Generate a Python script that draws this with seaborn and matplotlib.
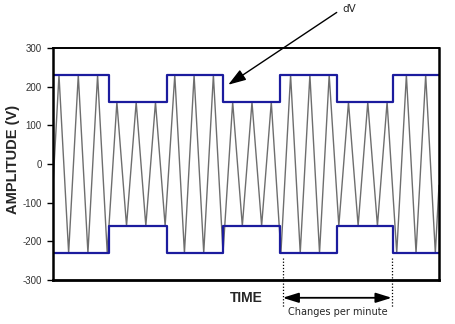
import matplotlib
matplotlib.use("Agg")
import matplotlib.pyplot as plt
import seaborn as sns
import pandas as pd

# ---- data ----
# envelope (step) : switch times and levels (V)
env_t = [0.0, 2.92, 5.89, 8.82, 11.76, 14.70, 17.63, 20.0]
env_hi = [230, 160, 230, 160, 230, 160, 230, 230]
env_lo = [-230, -160, -230, -160, -230, -160, -230, -230]

# carrier: turning points (time, value)
wave_t = [0.0,
          0.31, 0.81, 1.31, 1.81, 2.31, 2.81, 3.31, 3.81, 4.31, 4.81,
          5.31, 5.81, 6.31, 6.81, 7.31, 7.81, 8.31, 8.81, 9.31, 9.81,
          10.31, 10.81, 11.31, 11.81, 12.31, 12.81, 13.31, 13.81, 14.31, 14.81,
          15.31, 15.81, 16.31, 16.81, 17.31, 17.81, 18.31, 18.81, 19.31, 19.81,
          20.0]
wave_v = [-55,
          230, -230, 230, -230, 230, -230, 160, -160, 160, -160,
          160, -160, 230, -230, 230, -230, 230, -230, 160, -160,
          160, -160, 160, -230, 230, -230, 230, -230, 230, -160,
          160, -160, 160, -160, 160, -230, 230, -230, 230, -230,
          -55]

y_ticks = [-300, -200, -100, 0, 100, 200, 300]
y_label = "AMPLITUDE (V)"
x_label = "TIME"
note_dv = "dV"
note_rate = "Changes per minute"

# ---- plot ----
sns.set_theme(style="white")
plt.rcParams["font.family"] = ["Liberation Sans", "DejaVu Sans"]
plt.rcParams["axes.unicode_minus"] = False

fig = plt.figure(figsize=(4.55, 3.24), dpi=100)
ax = fig.add_axes([53 / 455, 44 / 324, 386 / 455, 232 / 324])

wave_df = pd.DataFrame({"t": wave_t, "v": wave_v})
env_df = pd.DataFrame({"t": env_t, "hi": env_hi, "lo": env_lo})

sns.lineplot(data=wave_df, x="t", y="v", ax=ax, color="#6e6e6e", lw=1.0,
             sort=False, estimator=None)
sns.lineplot(data=env_df, x="t", y="hi", ax=ax, color="#1c1c9e", lw=1.6,
             drawstyle="steps-post", estimator=None)
sns.lineplot(data=env_df, x="t", y="lo", ax=ax, color="#1c1c9e", lw=1.6,
             drawstyle="steps-post", estimator=None)

ax.set_xlim(0, 20)
ax.set_ylim(-300, 300)
ax.set_yticks(y_ticks)
ax.set_yticklabels([str(v) for v in y_ticks], fontsize=7, color="#333333",
                   family="Liberation Sans")
ax.set_xticks([])
ax.tick_params(axis="y", left=True, length=4, width=1, color="black", pad=4)
ax.set_xlabel("")
ax.set_ylabel(y_label, fontsize=10.5, fontweight="bold")
ax.yaxis.set_label_coords(-0.085, 0.52)

for side in ["left", "bottom", "top", "right"]:
    ax.spines[side].set_visible(True)
    ax.spines[side].set_color("black")
ax.spines["left"].set_linewidth(1.8)
ax.spines["bottom"].set_linewidth(2.0)
ax.spines["top"].set_linewidth(1.4)
ax.spines["right"].set_linewidth(1.8)

# annotations
ax.annotate("", xy=(9.08, 205), xytext=(14.7, 392), annotation_clip=False,
            arrowprops=dict(arrowstyle="-|>,head_length=0.9,head_width=0.3",
                            color="black", lw=1.0, shrinkA=0, shrinkB=0))
ax.text(15.35, 401, note_dv, fontsize=7.5, family="DejaVu Sans",
        ha="center", va="center", clip_on=False)

for xv in [11.9, 17.55]:
    ax.plot([xv, xv], [-242, -372], ls=(0, (1, 1.5)), color="black", lw=0.9,
            clip_on=False)
ax.annotate("", xy=(11.9, -346), xytext=(17.55, -346), annotation_clip=False,
            arrowprops=dict(arrowstyle="<|-|>,head_length=0.8,head_width=0.25",
                            color="black", lw=1.3, shrinkA=0, shrinkB=0))
ax.text(14.77, -382, note_rate, fontsize=7, family="DejaVu Sans",
        ha="center", va="center", clip_on=False)
ax.text(10.0, -346, x_label, fontsize=10, fontweight="bold",
        ha="center", va="center", clip_on=False)

fig.savefig("out.png", dpi=100)
